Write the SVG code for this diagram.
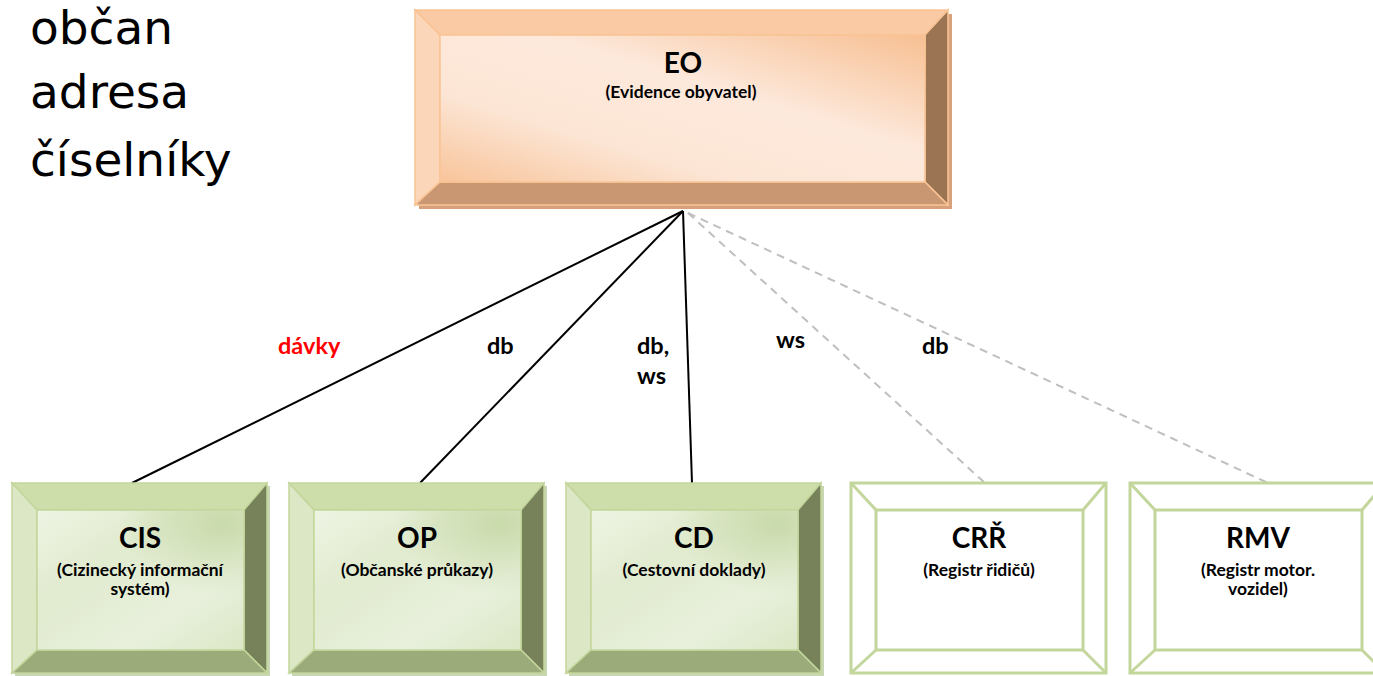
<svg xmlns="http://www.w3.org/2000/svg" xmlns:xlink="http://www.w3.org/1999/xlink" width="1373" height="676" viewBox="0 0 1373 676">
<style>
.side{font-family:"DejaVu Sans",Verdana,sans-serif;font-size:47px;fill:#000}
.t{font-family:Lato,"Liberation Sans",sans-serif;font-weight:bold;fill:#000;text-anchor:middle}
.ti{font-size:28px}
.su{font-size:17.5px}
.lab{font-family:Lato,"Liberation Sans",sans-serif;font-weight:bold;font-size:23.5px;fill:#000}
.solid{stroke:#000;stroke-width:2;fill:none}
.dash{stroke:#bfbfbf;stroke-width:2;stroke-dasharray:8,6;fill:none}
.gb{stroke:#c3d69b;stroke-width:1.5}
.ob{fill:#fff;stroke:#c3d69b;stroke-width:3}
.eb{stroke:#f9c394;stroke-width:1.5}
</style>
<defs>
<linearGradient id="gEO" x1="0" y1="1" x2="1" y2="0">
<stop offset="0" stop-color="#f8c49a"/>
<stop offset="0.3" stop-color="#fce5d4"/>
<stop offset="0.6" stop-color="#fde9dc"/>
<stop offset="1" stop-color="#f7bf92"/>
</linearGradient>
<linearGradient id="gG" x1="0" y1="0" x2="1" y2="1">
<stop offset="0" stop-color="#eef4e3"/>
<stop offset="0.35" stop-color="#e1ebcf"/>
<stop offset="0.7" stop-color="#e8f0dc"/>
<stop offset="1" stop-color="#dbe7c6"/>
</linearGradient>
<radialGradient id="gG2" cx="0.9" cy="0.1" r="0.5">
<stop offset="0" stop-color="#c6d8a6" stop-opacity="0.9"/>
<stop offset="1" stop-color="#c6d8a6" stop-opacity="0"/>
</radialGradient>
<g id="greenBox">
<rect x="3" y="3" width="255" height="190" fill="#c9d6b3"/>
<polygon class="gb" points="0,0 255,0 232,27 25,27" fill="#cedeaa"/>
<polygon class="gb" points="0,0 25,27 25,167 0,190" fill="#dce7c6"/>
<polygon class="gb" points="255,0 255,190 232,167 232,27" fill="#77825a"/>
<polygon class="gb" points="0,190 25,167 232,167 255,190" fill="#9bab7a"/>
<rect class="gb" x="25" y="27" width="207" height="140" fill="url(#gG)"/>
<rect x="25" y="27" width="207" height="140" fill="url(#gG2)"/>
</g>
<g id="outlineBox">
<rect class="ob" x="0" y="0" width="255" height="190"/>
<rect class="ob" x="25" y="27" width="207" height="140"/>
<path class="ob" d="M0,0 L25,27 M255,0 L232,27 M0,190 L25,167 M255,190 L232,167"/>
</g>
</defs>

<g id="sidetext">
<text class="side" x="30" y="44">občan</text>
<text class="side" x="30" y="108">adresa</text>
<text class="side" x="30" y="176">číselníky</text>
</g>

<g id="connectors">
<line class="solid" x1="683" y1="211" x2="132" y2="483"/>
<line class="solid" x1="683" y1="211" x2="420" y2="483"/>
<line class="solid" x1="683" y1="211" x2="692" y2="483"/>
<line class="dash" x1="688" y1="213" x2="985" y2="483"/>
<line class="dash" x1="688" y1="213" x2="1268" y2="483"/>
<text class="lab" x="278" y="354" style="fill:#ff0000">dávky</text>
<text class="lab" x="487" y="354">db</text>
<text class="lab" x="637" y="354">db,</text>
<text class="lab" x="637" y="384">ws</text>
<text class="lab" x="776" y="348">ws</text>
<text class="lab" x="922" y="354">db</text>
</g>

<g id="EO">
<rect x="419" y="14" width="533" height="195" fill="#d7a17c"/>
<polygon class="eb" points="415,10 948,10 925,35 440,35" fill="#f9caa3"/>
<polygon class="eb" points="415,10 440,35 440,182 415,205" fill="#fbd6b8"/>
<polygon class="eb" points="948,10 948,205 925,182 925,35" fill="#9b7553"/>
<polygon class="eb" points="415,205 440,182 925,182 948,205" fill="#c99873"/>
<rect class="eb" x="440" y="35" width="485" height="147" fill="url(#gEO)"/>
<text class="t ti" x="683" y="73">EO</text>
<text class="t su" x="681" y="98">(Evidence obyvatel)</text>
</g>

<g id="CIS" transform="translate(12,483)">
<use xlink:href="#greenBox"/>
<text class="t ti" x="128" y="65">CIS</text>
<text class="t su" x="128" y="93">(Cizinecký informační</text>
<text class="t su" x="128" y="112">systém)</text>
</g>
<g id="OP" transform="translate(289,483)">
<use xlink:href="#greenBox"/>
<text class="t ti" x="128" y="65">OP</text>
<text class="t su" x="128" y="93">(Občanské průkazy)</text>
</g>
<g id="CD" transform="translate(566,483)">
<use xlink:href="#greenBox"/>
<text class="t ti" x="128" y="65">CD</text>
<text class="t su" x="128" y="93">(Cestovní doklady)</text>
</g>
<g id="CRR" transform="translate(851,483)">
<use xlink:href="#outlineBox"/>
<text class="t ti" x="128" y="65">CRŘ</text>
<text class="t su" x="128" y="93">(Registr řidičů)</text>
</g>
<g id="RMV" transform="translate(1130,483)">
<use xlink:href="#outlineBox"/>
<text class="t ti" x="128" y="65">RMV</text>
<text class="t su" x="128" y="93">(Registr motor.</text>
<text class="t su" x="128" y="112">vozidel)</text>
</g>
</svg>
